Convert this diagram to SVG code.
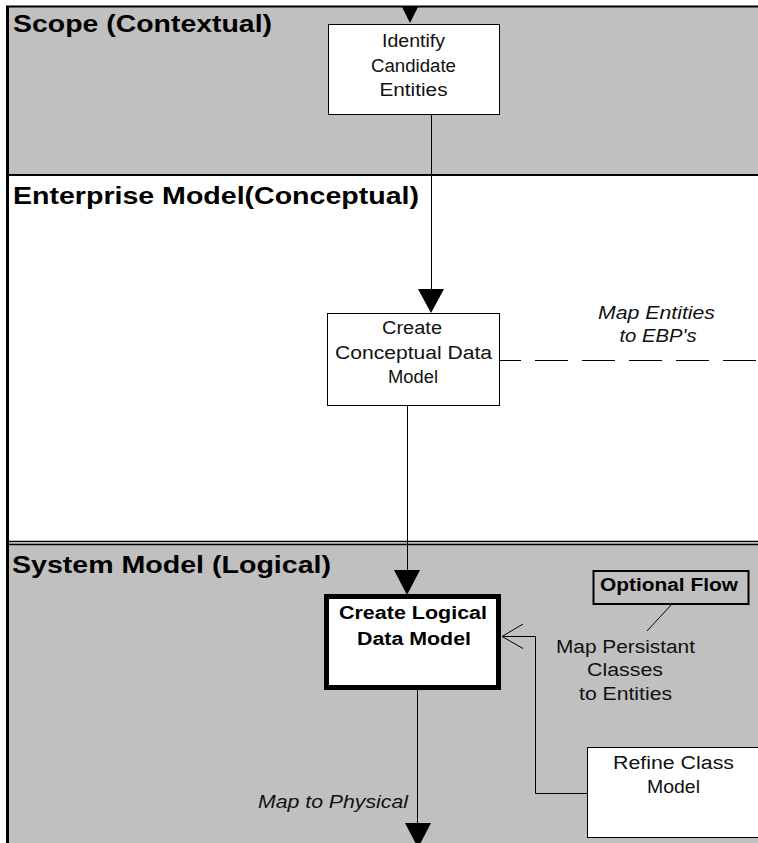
<svg xmlns="http://www.w3.org/2000/svg" width="758" height="843" viewBox="0 0 758 843">
<style>
.band-gray{fill:#c0c0c0}
.band-white{fill:#ffffff}
.frame{stroke:#000;fill:none}
.title{font-family:"Liberation Sans",Arial,sans-serif;font-weight:bold;font-size:23px;fill:#000}
.node{fill:#fff;stroke:#000;stroke-width:1}
.txt{font-family:"Liberation Sans",Arial,sans-serif;font-size:18px;fill:#111;text-anchor:middle}
.btxt{font-family:"Liberation Sans",Arial,sans-serif;font-size:18px;font-weight:bold;fill:#000;text-anchor:middle}
.itxt{font-family:"Liberation Sans",Arial,sans-serif;font-size:18px;font-style:italic;fill:#111;text-anchor:middle}
.line{stroke:#000;stroke-width:1;fill:none}
.head{fill:#000}
</style>

<g id="lanes">
  <rect class="band-gray" x="7" y="7" width="760" height="168"/>
  <rect class="band-white" x="7" y="176" width="760" height="366"/>
  <rect class="band-gray" x="7" y="543" width="760" height="310"/>
  <line class="frame" x1="6" y1="6.5" x2="758" y2="6.5" stroke-width="2"/>
  <line class="frame" x1="7.5" y1="6" x2="7.5" y2="843" stroke-width="3"/>
  <line class="frame" x1="6" y1="175" x2="758" y2="175" stroke-width="2"/>
  <line class="frame" x1="6" y1="541.5" x2="758" y2="541.5" stroke-width="1.5"/>
  <line class="frame" x1="6" y1="544.5" x2="758" y2="544.5" stroke-width="1.5"/>
  <text class="title" x="13" y="32" textLength="259" lengthAdjust="spacingAndGlyphs">Scope (Contextual)</text>
  <text class="title" x="13" y="204" textLength="406" lengthAdjust="spacingAndGlyphs">Enterprise Model(Conceptual)</text>
  <text class="title" x="12" y="573" textLength="319" lengthAdjust="spacingAndGlyphs">System Model (Logical)</text>
</g>

<g id="connectors">
  <polygon class="head" points="402,7 418,7 410,23"/>
  <line class="line" x1="431.5" y1="114" x2="431.5" y2="290"/>
  <polygon class="head" points="418,289 444,289 431,313"/>
  <line class="line" x1="499" y1="360.5" x2="758" y2="360.5" stroke-dasharray="33 14" stroke-dashoffset="11"/>
  <line class="line" x1="407.5" y1="405" x2="407.5" y2="571"/>
  <polygon class="head" points="394,570 420,570 407,595"/>
  <line class="line" x1="417.5" y1="690" x2="417.5" y2="824"/>
  <polygon class="head" points="405,823 431,823 418,848"/>
  <polyline class="line" points="587,793.5 535.5,793.5 535.5,636.5 502,636.5"/>
  <polyline class="line" points="523,624 502,636.5 523,648.5"/>
  <line class="line" x1="672" y1="604" x2="647" y2="631"/>
</g>

<g id="node-identify">
  <rect class="node" x="328.5" y="24.5" width="171" height="90"/>
  <text class="txt" x="413.5" y="47" textLength="63" lengthAdjust="spacingAndGlyphs">Identify</text>
  <text class="txt" x="413.5" y="71.5" textLength="85" lengthAdjust="spacingAndGlyphs">Candidate</text>
  <text class="txt" x="413.5" y="95.5" textLength="68" lengthAdjust="spacingAndGlyphs">Entities</text>
</g>

<g id="node-conceptual">
  <rect class="node" x="327.5" y="313.5" width="172" height="92"/>
  <text class="txt" x="412" y="334" textLength="60" lengthAdjust="spacingAndGlyphs">Create</text>
  <text class="txt" x="413.5" y="359" textLength="157" lengthAdjust="spacingAndGlyphs">Conceptual Data</text>
  <text class="txt" x="413" y="383" textLength="50" lengthAdjust="spacingAndGlyphs">Model</text>
</g>

<g id="label-map-entities">
  <text class="itxt" x="656.5" y="319" textLength="117" lengthAdjust="spacingAndGlyphs">Map Entities</text>
  <text class="itxt" x="658" y="341.5" textLength="77" lengthAdjust="spacingAndGlyphs">to EBP's</text>
</g>

<g id="node-logical">
  <rect x="326.5" y="596.5" width="172" height="91" fill="#fff" stroke="#000" stroke-width="5"/>
  <text class="btxt" x="413" y="619" textLength="148" lengthAdjust="spacingAndGlyphs">Create Logical</text>
  <text class="btxt" x="414" y="645" textLength="114" lengthAdjust="spacingAndGlyphs">Data Model</text>
</g>

<g id="node-optional">
  <rect x="593.5" y="571" width="155" height="33" fill="none" stroke="#000" stroke-width="2"/>
  <text class="btxt" x="669" y="591" font-size="17" textLength="138" lengthAdjust="spacingAndGlyphs">Optional Flow</text>
</g>

<g id="label-map-persistant">
  <text class="txt" x="625.5" y="653" textLength="139" lengthAdjust="spacingAndGlyphs">Map Persistant</text>
  <text class="txt" x="625" y="676" textLength="76" lengthAdjust="spacingAndGlyphs">Classes</text>
  <text class="txt" x="625.5" y="700" textLength="93" lengthAdjust="spacingAndGlyphs">to Entities</text>
</g>

<g id="node-refine">
  <rect class="node" x="587.5" y="747.5" width="172" height="90"/>
  <text class="txt" x="673.5" y="769" textLength="121" lengthAdjust="spacingAndGlyphs">Refine Class</text>
  <text class="txt" x="673.5" y="793" textLength="53" lengthAdjust="spacingAndGlyphs">Model</text>
</g>

<g id="label-physical">
  <text class="itxt" x="408" y="808" style="text-anchor:end" textLength="150" lengthAdjust="spacingAndGlyphs">Map to Physical</text>
</g>
</svg>
